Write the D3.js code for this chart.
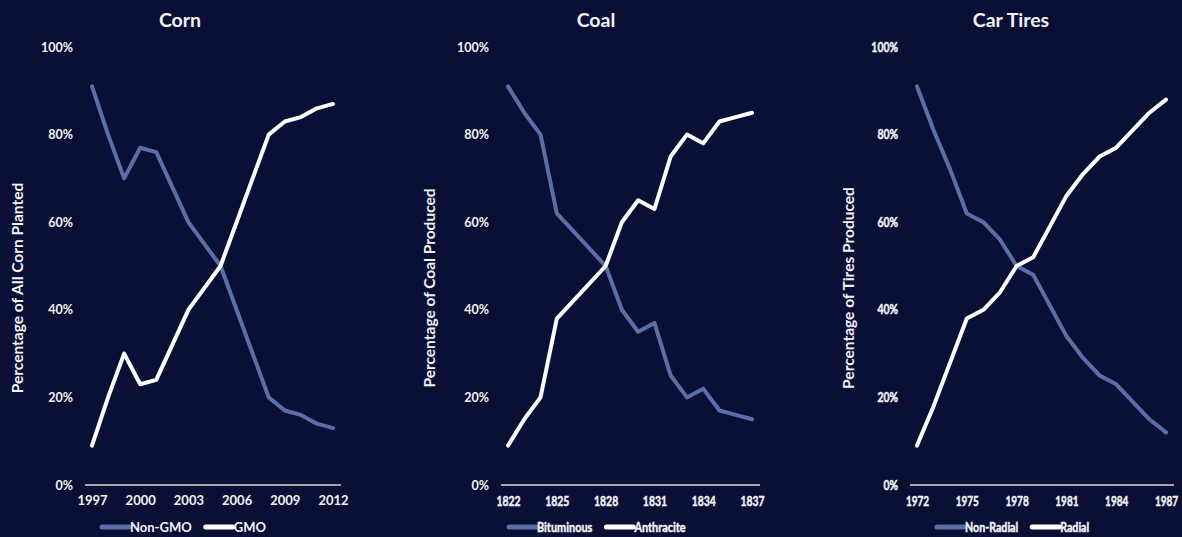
<!DOCTYPE html>
<html><head><meta charset="utf-8">
<script src="https://cdn.jsdelivr.net/npm/d3@7"></script>
<style>
html,body{margin:0;padding:0;background:#0a1035;}
svg{display:block;}
text{font-family:Lato,"Open Sans",sans-serif;font-weight:700;fill:#f2f2f5;}
</style></head><body>
<svg id="c" width="1182" height="537"></svg>
<script>
// ---- data ----
const cornYears = [1997,1998,1999,2000,2001,2002,2003,2004,2005,2006,2007,2008,2009,2010,2011,2012];
const cornNonGMO = [91,80,70,77,76,68,60,55,50,40,30,20,17,16,14,13];
const cornGMO    = [9,20,30,23,24,32,40,45,50,60,70,80,83,84,86,87];

const coalYears = [1822,1823,1824,1825,1826,1827,1828,1829,1830,1831,1832,1833,1834,1835,1836,1837];
const coalBituminous = [91,85,80,62,58,54,50,40,35,37,25,20,22,17,16,15];
const coalAnthracite = [9,15,20,38,42,46,50,60,65,63,75,80,78,83,84,85];

const tireYears = [1972,1973,1974,1975,1976,1977,1978,1979,1980,1981,1982,1983,1984,1985,1986,1987];
const tireNonRadial = [91,81,72,62,60,56,50,48,41,34,29,25,23,19,15,12];
const tireRadial    = [9,18,28,38,40,44,50,52,59,66,71,75,77,81,85,88];

const cornTicks = [1997,2000,2003,2006,2009,2012];
const coalTicks = [1822,1825,1828,1831,1834,1837];
const tireTicks = [1972,1975,1978,1981,1984,1987];
const yTicks = [0,20,40,60,80,100];

const titles = ["Corn","Coal","Car Tires"];
const yTitles = ["Percentage of All Corn Planted","Percentage of Coal Produced","Percentage of Tires Produced"];
const seriesNames = [["Non-GMO","GMO"],["Bituminous","Anthracite"],["Non-Radial","Radial"]];

// ---- layout ----
const svg = d3.select("#c");
const BLUE = "#5b6ea7", WHITE = "#ffffff";

// squeeze text horizontally (reference uses a condensed face in some panels)
function squeeze(sel, f){
  if (f === 1) return;
  sel.each(function(){
    const L = this.getComputedTextLength();
    d3.select(this).attr("textLength", L*f).attr("lengthAdjust","spacingAndGlyphs")
      .attr("stroke","#f2f2f5").attr("stroke-width",0.45);
  });
}

const panels = [
  {years:cornYears, a:cornNonGMO, b:cornGMO, ticks:cornTicks, x0:92, x1:333, tcx:180, ytx:17, lx:100, xs:13, xf:1, ys:12.5, yf:1, lf:1},
  {years:coalYears, a:coalBituminous, b:coalAnthracite, ticks:coalTicks, x0:508, x1:752, tcx:596, ytx:429, lx:507, xs:13.5, xf:0.77, ys:12.5, yf:1, lf:0.84},
  {years:tireYears, a:tireNonRadial, b:tireRadial, ticks:tireTicks, x0:917, x1:1166, tcx:1011, ytx:848, lx:935, xs:13.5, xf:0.74, ys:13, yf:0.8, lf:0.82}
];

const y = d3.scaleLinear().domain([0,100]).range([485,47]);

panels.forEach((p,i)=>{
  const g = svg.append("g");
  const x = d3.scaleLinear().domain([p.years[0], p.years[p.years.length-1]]).range([p.x0,p.x1]);

  // title
  g.append("text").attr("x",p.tcx).attr("y",27).attr("text-anchor","middle")
    .style("font-size","19.5px").text(titles[i]);

  // y title
  g.append("text").attr("transform",`translate(${p.ytx+5.5},${288}) rotate(-90)`)
    .attr("text-anchor","middle").style("font-size","15.5px").text(yTitles[i]);

  // x axis line
  g.append("line").attr("x1",p.x0-7).attr("x2",p.x1+8).attr("y1",y(0)).attr("y2",y(0))
    .attr("stroke","#a6a6a6").attr("stroke-width",2);

  // x axis ticks via d3 axis
  const xa = g.append("g").attr("transform",`translate(0,${y(0)})`)
    .call(d3.axisBottom(x).tickValues(p.ticks).tickFormat(d3.format("d")).tickSize(0).tickPadding(11));
  xa.select(".domain").remove();
  xa.selectAll("text").style("font-size",p.xs+"px").attr("fill","#f2f2f5");
  squeeze(xa.selectAll("text"), p.xf);

  // y axis labels
  const ya = g.append("g").attr("transform",`translate(${p.x0-7},0)`)
    .call(d3.axisLeft(y).tickValues(yTicks).tickFormat(d=>d+"%").tickSize(0).tickPadding(12));
  ya.select(".domain").remove();
  ya.selectAll("text").style("font-size",p.ys+"px").attr("fill","#f2f2f5");
  squeeze(ya.selectAll("text"), p.yf);

  const line = d3.line().x((d,k)=>x(p.years[k])).y(d=>y(d)).curve(d3.curveLinear);
  g.append("path").datum(p.a).attr("d",line).attr("fill","none").attr("stroke",BLUE)
    .attr("stroke-width",4).attr("stroke-linejoin","round").attr("stroke-linecap","round");
  g.append("path").datum(p.b).attr("d",line).attr("fill","none").attr("stroke",WHITE)
    .attr("stroke-width",4).attr("stroke-linejoin","round").attr("stroke-linecap","round");

  // legend
  let lx = p.lx;
  [BLUE,WHITE].forEach((c,k)=>{
    g.append("line").attr("x1",lx+2).attr("x2",lx+29).attr("y1",527).attr("y2",527)
      .attr("stroke",c).attr("stroke-width",5).attr("stroke-linecap","round");
    const t = g.append("text").attr("x",lx+30).attr("y",531.5).style("font-size","13px")
      .text(seriesNames[i][k]);
    const natural = t.node().getComputedTextLength();
    squeeze(t, p.lf);
    lx = lx + 30 + natural*p.lf + 12;
  });
});
</script></body></html>
